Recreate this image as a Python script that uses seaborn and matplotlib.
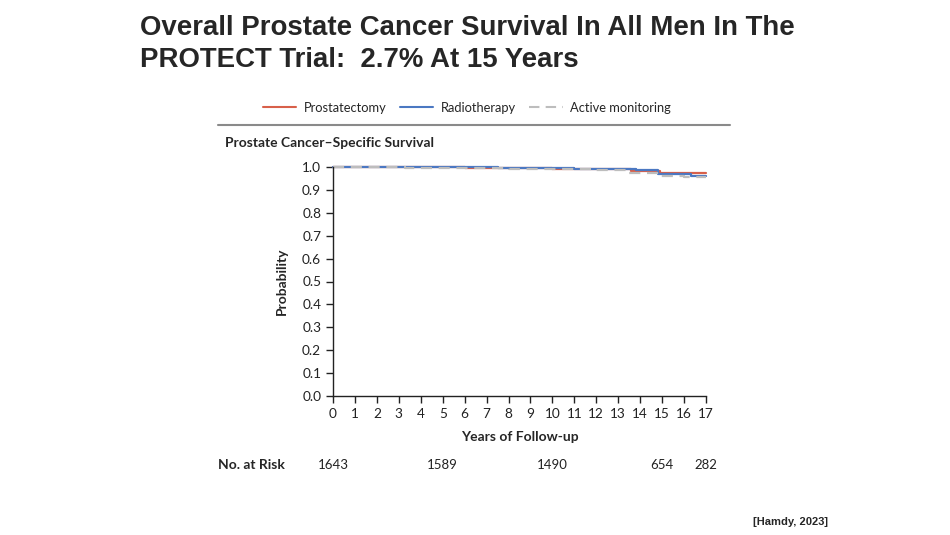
import numpy as np
import pandas as pd
import matplotlib.pyplot as plt
import matplotlib.lines as mlines
import seaborn as sns

# 数据
pros_t = [0, 3.0, 6.0, 8.0, 10.0, 12.0, 13.6, 14.9, 17.0]
pros_s = [1.0, 0.999, 0.996, 0.994, 0.992, 0.990, 0.984, 0.973, 0.973]
radio_t = [0, 4.0, 7.5, 9.0, 11.0, 12.5, 13.8, 14.8, 16.3, 17.0]
radio_s = [1.0, 0.999, 0.997, 0.995, 0.993, 0.991, 0.986, 0.969, 0.962, 0.962]
active_t = [0, 3.3, 6.0, 8.0, 10.0, 12.0, 13.5, 14.9, 16.0, 17.0]
active_s = [1.0, 0.997, 0.995, 0.993, 0.991, 0.988, 0.973, 0.960, 0.957, 0.957]

arms = ['Prostatectomy', 'Radiotherapy', 'Active monitoring']
colors = ['#d8604a', '#4b78c2', '#bdbdbd']

risk_years = [0, 5, 10, 15, 17]
risk_n = ['1643', '1589', '1490', '654', '282']

df = pd.concat([
    pd.DataFrame({'time': pros_t, 'surv': pros_s, 'arm': arms[0]}),
    pd.DataFrame({'time': radio_t, 'surv': radio_s, 'arm': arms[1]}),
    pd.DataFrame({'time': active_t, 'surv': active_s, 'arm': arms[2]}),
])

sns.set_style('ticks')
plt.rcParams['font.family'] = ['Lato', 'DejaVu Sans']

fig = plt.figure(figsize=(9.5, 5.35), dpi=100)
ax = fig.add_axes([333 / 950, 1 - 396 / 535, 373 / 950, 229 / 535])

sns.lineplot(data=df, x='time', y='surv', hue='arm', style='arm',
             palette=dict(zip(arms, colors)),
             dashes={arms[0]: '', arms[1]: '', arms[2]: (5, 3)},
             drawstyle='steps-post', estimator=None, linewidth=1.6,
             legend=False, ax=ax)

ax.set_xlim(0, 17)
ax.set_ylim(0, 1.0)
ax.set_xticks(range(0, 18))
ax.set_yticks(np.arange(0, 1.01, 0.1))
ax.set_yticklabels([f'{v:.1f}' for v in np.arange(0, 1.01, 0.1)])
ax.tick_params(labelsize=9.8, colors='#222222', length=5, width=1)
ax.spines[['top', 'right']].set_visible(False)
for s in ['left', 'bottom']:
    ax.spines[s].set_color('#222222')
    ax.spines[s].set_linewidth(1)
ax.set_xlabel('Years of Follow-up', fontsize=10, fontweight='bold', labelpad=8)
ax.set_ylabel('Probability', fontsize=10, fontweight='bold', labelpad=10)
for l in ax.lines:
    l.set_clip_on(False)

# 图例
handles = [mlines.Line2D([], [], color=colors[0], lw=1.5),
           mlines.Line2D([], [], color=colors[1], lw=1.5),
           mlines.Line2D([], [], color=colors[2], lw=1.5, ls=(0, (5, 3)))]
fig.legend(handles, arms, ncol=3, frameon=False, loc='center',
           bbox_to_anchor=(467 / 950, 1 - 108 / 535), fontsize=9.3,
           handlelength=2.6, columnspacing=1.0, handletextpad=0.6)
fig.add_artist(mlines.Line2D([218 / 950, 730 / 950], [1 - 125 / 535] * 2,
                             color='#8a8a8a', lw=1.5))
fig.text(225 / 950, 1 - 143 / 535, 'Prostate Cancer\u2013Specific Survival',
         fontsize=10, fontweight='bold', va='center', ha='left')

# 风险人数
fig.text(218 / 950, 1 - 465 / 535, 'No. at Risk', fontsize=10,
         fontweight='bold', va='center', ha='left')
for yr, n in zip(risk_years, risk_n):
    ax.text(yr, -0.303, n, fontsize=9.5, ha='center', va='center',
            color='#222222', transform=ax.transData, clip_on=False)

# 标题
fig.text(140 / 950, 1 - 28 / 535, 'Overall Prostate Cancer Survival In All Men In The',
         fontsize=19.9, fontweight='bold', family='Liberation Sans',
         va='center', ha='left')
fig.text(140 / 950, 1 - 60 / 535, 'PROTECT Trial:  2.7% At 15 Years',
         fontsize=19.9, fontweight='bold', family='Liberation Sans',
         va='center', ha='left')
fig.text(828 / 950, 1 - 522 / 535, '[Hamdy, 2023]', fontsize=8,
         fontweight='bold', family='Liberation Sans', va='center', ha='right')

plt.savefig('out.png', dpi=100, facecolor='white')
